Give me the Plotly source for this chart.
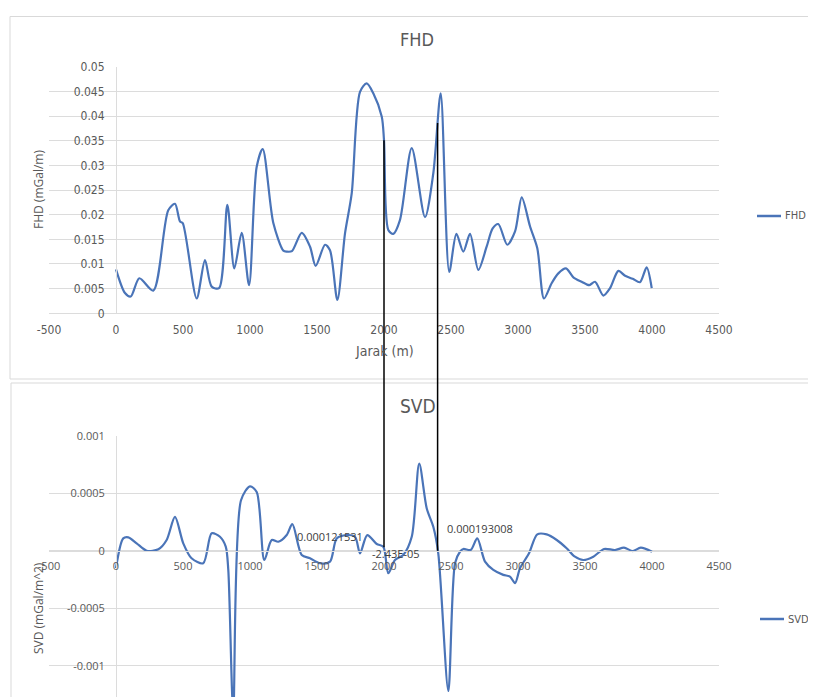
import plotly.graph_objects as go

# ---------------- data ----------------
fhd_x = [0, 67, 110, 174, 278, 390, 440, 478, 498, 602, 664, 714, 769, 831, 883, 938, 993,
         1050, 1095, 1174, 1249, 1274, 1313, 1386, 1448, 1490, 1560, 1597, 1652, 1709, 1759,
         1821, 1871, 1920, 1983, 2000, 2032, 2069, 2119, 2207, 2306, 2368, 2423, 2487, 2540,
         2592, 2642, 2704, 2766, 2811, 2853, 2920, 2978, 3028, 3090, 3144, 3194, 3251, 3301,
         3358, 3413, 3475, 3532, 3575, 3637, 3687, 3749, 3799, 3856, 3910, 3960, 3998]
fhd_y = [0.0089, 0.0041, 0.0034, 0.0071, 0.0046, 0.0209, 0.0222, 0.0186, 0.0183, 0.0030,
         0.0108, 0.0054, 0.0051, 0.0220, 0.0091, 0.0163, 0.0057, 0.0297, 0.0333, 0.0183,
         0.0127, 0.0125, 0.0126, 0.0163, 0.0135, 0.0096, 0.0139, 0.0128, 0.0027, 0.0162,
         0.0243, 0.0449, 0.0466, 0.0446, 0.0399, 0.0351, 0.0169, 0.0161, 0.0189, 0.0335,
         0.0195, 0.0284, 0.0446, 0.0084, 0.0161, 0.0125, 0.0161, 0.0088, 0.0135, 0.0172,
         0.0181, 0.0139, 0.0166, 0.0235, 0.0176, 0.0132, 0.0030, 0.0061, 0.0081, 0.0091,
         0.0073, 0.0064, 0.0057, 0.0064, 0.0036, 0.0051, 0.0086, 0.0076, 0.0070, 0.0063,
         0.0093, 0.0051]

svd_x = [0, 54, 92, 154, 229, 316, 378, 440, 502, 564, 651, 714, 776, 819, 838, 875, 933,
         1000, 1050, 1107, 1162, 1211, 1274, 1316, 1386, 1448, 1522, 1597, 1647, 1722, 1784,
         1821, 1875, 1946, 1995, 2032, 2082, 2144, 2207, 2263, 2319, 2368, 2405, 2480, 2530,
         2567, 2592, 2647, 2696, 2754, 2816, 2890, 2940, 2978, 3015, 3082, 3144, 3214, 3289,
         3363, 3425, 3487, 3562, 3642, 3724, 3791, 3857, 3916, 4000]
svd_y = [-0.000152, 0.000107, 0.000116, 0.000064, 0.0, 0.000012, 0.000093, 0.000294,
         0.000064, -0.000066, -0.000109, 0.000151, 0.000121, 0.000035, -0.000167, -0.0014,
         0.000439, 0.00056, 0.000511, -0.000081, 0.000093, 0.000078, 0.000136, 0.000231,
         -0.000037, -0.000066, -0.000109, -0.000095, 0.000107, 0.000136, 0.000121, -0.000023,
         0.000136, 0.000058, 0.000035, -0.000196, -0.000081, -0.000037, 0.000121, 0.000757,
         0.000367, 0.000208, -0.000023, -0.00122, -0.000109, -0.000009, 0.000015, 0.000006,
         0.000107, -0.000095, -0.000167, -0.00021, -0.000225, -0.000282, -0.000152,
         -0.000023, 0.000142, 0.000142, 0.000093, 0.000021, -0.000052, -0.000081, -0.000052,
         0.000015, 0.000006, 0.000026, -0.000003, 0.000026, -0.000009]

x_ticks = [-500, 0, 500, 1000, 1500, 2000, 2500, 3000, 3500, 4000, 4500]
x_tick_text = ["-500", "0", "500", "1000", "1500", "2000", "2500", "3000", "3500", "4000", "4500"]
fhd_ticks = [0, 0.005, 0.01, 0.015, 0.02, 0.025, 0.03, 0.035, 0.04, 0.045, 0.05]
fhd_tick_text = ["0", "0.005", "0.01", "0.015", "0.02", "0.025", "0.03", "0.035", "0.04", "0.045", "0.05"]
svd_ticks = [-0.001, -0.0005, 0, 0.0005, 0.001]
svd_tick_text = ["-0.001", "-0.0005", "0", "0.0005", "0.001"]

label_x = [1597, 2090, 2716]
label_y = [0.000121531, -0.0000243, 0.000193008]
label_text = ["0.000121531", "-2.43E-05", "0.000193008"]

marker_x = [2000, 2400]
marker_top_fhd = [0.0351, 0.0386]
marker_bot_svd = [0.00003, 0.0]

# ---------------- layout geometry (given in target picture pixels) ----------------
W, H = 816, 697
OX, SX, OY, SY = 8.0, 1.0, 8.0, 1.0   # page offset of the figure in the picture

def px(s):
    return ((s - OX) / SX) / W
def py(s):
    return 1 - ((s - OY) / SY) / H

XR = [-500, 4500]
XD = [px(49), px(719)]
Y1R = [0, 0.05]
Y1D = [py(313.3), py(66.7)]
# bottom chart: 0.001 at 435.7 px, 0 at 550.7 px, plot runs to the figure bottom
y2_top_v, y2_top_px, y2_zero_px = 0.001, 435.7, 550.7
Y2D = [0.0, py(y2_top_px)]
f_top = (y2_top_px - OY) / SY
f_zero = (y2_zero_px - OY) / SY
y2_min = -y2_top_v * (H - f_zero) / (f_zero - f_top)
Y2R = [y2_min, y2_top_v]

def xpaper(x):
    return XD[0] + (x - XR[0]) / (XR[1] - XR[0]) * (XD[1] - XD[0])
def ypaper(v, r, d):
    return d[0] + (v - r[0]) / (r[1] - r[0]) * (d[1] - d[0])

BLUE = "#4a74b8"
GRID = "#dcdcdc"
TXT = "#595959"
NARROW = "Liberation Sans Narrow, DejaVu Sans Condensed, Liberation Sans, sans-serif"
WIDE = "Open Sans, sans-serif"

fig = go.Figure()
fig.add_trace(go.Scatter(x=fhd_x, y=fhd_y, mode="lines", name="FHD",
                         line=dict(color=BLUE, width=2.2, shape="spline", smoothing=0.8),
                         xaxis="x", yaxis="y", showlegend=False))
fig.add_trace(go.Scatter(x=svd_x, y=svd_y, mode="lines", name="SVD",
                         line=dict(color=BLUE, width=2.2, shape="spline", smoothing=0.8),
                         xaxis="x2", yaxis="y2", showlegend=False))

common_x = dict(range=XR, domain=XD, tickvals=x_ticks, ticktext=x_tick_text,
                showgrid=False, zeroline=False, showline=True, linecolor=GRID, linewidth=1,
                ticks="", anchor="free", ticklabelstandoff=5, automargin=False)
fig.update_layout(
    width=W, height=H,
    margin=dict(l=0, r=0, t=0, b=0, autoexpand=False),
    paper_bgcolor="white", plot_bgcolor="white",
    xaxis=dict(**common_x, position=Y1D[0],
               tickfont=dict(family=NARROW, size=12, color=TXT)),
    yaxis=dict(range=Y1R, domain=Y1D, tickvals=fhd_ticks, ticktext=fhd_tick_text,
               showgrid=True, gridcolor=GRID, zeroline=False, showline=True,
               linecolor=GRID, ticks="", anchor="free", position=xpaper(0), automargin=False,
               ticklabelstandoff=9, tickfont=dict(family=NARROW, size=12, color=TXT)),
    xaxis2=dict(**common_x, position=ypaper(0, Y2R, Y2D),
                tickfont=dict(family=WIDE, size=11, color=TXT)),
    yaxis2=dict(range=Y2R, domain=Y2D, tickvals=svd_ticks, ticktext=svd_tick_text,
                showgrid=True, gridcolor=GRID, zeroline=False, showline=True,
                linecolor=GRID, ticks="", anchor="free", position=xpaper(0), automargin=False,
                ticklabelstandoff=9, tickfont=dict(family=WIDE, size=11, color=TXT)),
    showlegend=False,
)

# chart frames
fig.add_shape(type="rect", xref="paper", yref="paper", x0=px(10), x1=px(815.5),
              y0=py(379), y1=py(16.5), line=dict(color="#d9d9d9", width=1))
fig.add_shape(type="rect", xref="paper", yref="paper", x0=px(11), x1=px(815.5),
              y0=py(710), y1=py(383), line=dict(color="#d9d9d9", width=1))

def note(text, x, y, font, angle=0, xanchor="center"):
    fig.add_annotation(text=text, x=x, y=y, xref="paper", yref="paper", showarrow=False,
                       xanchor=xanchor, yanchor="middle", textangle=angle, font=font)

# legends (series key drawn at the right of each chart)
for name, ly, lx0 in [("FHD", 216, 757), ("SVD", 619, 760)]:
    fig.add_shape(type="line", xref="paper", yref="paper", x0=px(lx0), x1=px(lx0 + 24),
                  y0=py(ly), y1=py(ly), line=dict(color=BLUE, width=2.5))
    note(name, px(lx0 + 26), py(ly), dict(family=NARROW, size=11, color=TXT), xanchor="left")

# vertical marker lines connecting both charts
for mx, top, bot in zip(marker_x, marker_top_fhd, marker_bot_svd):
    fig.add_shape(type="line", xref="paper", yref="paper",
                  x0=xpaper(mx), x1=xpaper(mx),
                  y0=ypaper(bot, Y2R, Y2D), y1=ypaper(top, Y1R, Y1D),
                  line=dict(color="black", width=1.5))

# titles
note("FHD", px(417), py(40), dict(family=NARROW, size=18, color=TXT))
note("SVD", px(418), py(406), dict(family=NARROW, size=19, color=TXT))
note("FHD (mGal/m)", px(38), py(190), dict(family=WIDE, size=12, color=TXT), angle=-90)
note("SVD (mGal/m^2)", px(38), py(608), dict(family=WIDE, size=12, color=TXT), angle=-90)
note("Jarak (m)", px(384), py(351), dict(family=NARROW, size=14, color=TXT))

# data labels
for lx, ly, lt in zip(label_x, label_y, label_text):
    fig.add_annotation(text=lt, x=lx, y=ly, xref="x2", yref="y2", showarrow=False,
                       xanchor="center", yanchor="middle",
                       font=dict(family=WIDE, size=11, color="#404040"))

fig.write_html("out.html")
